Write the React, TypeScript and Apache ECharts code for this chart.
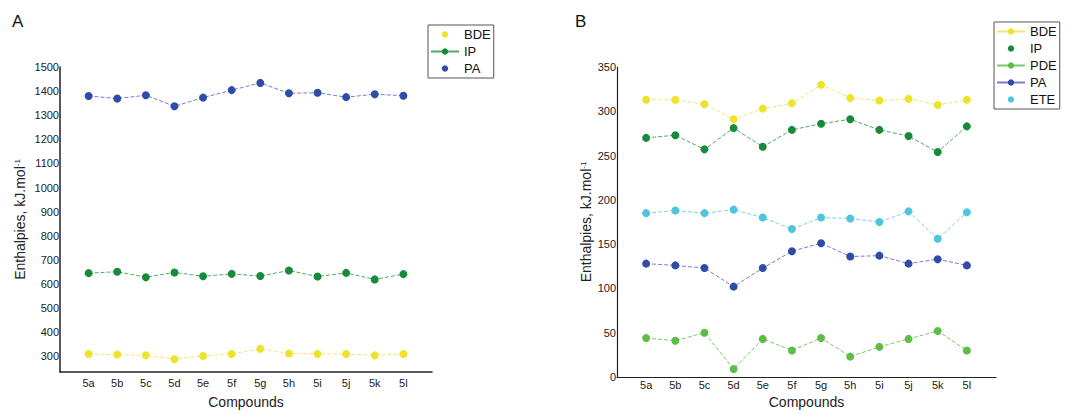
import React, { useEffect, useRef } from "react";
import * as echarts from "echarts";

const categories = ["5a", "5b", "5c", "5d", "5e", "5f", "5g", "5h", "5i", "5j", "5k", "5l"];

// Panel A
const aBDE = [310, 307, 304, 288, 301, 310, 331, 312, 310, 310, 304, 310];
const aIP = [645, 651, 628, 648, 632, 642, 633, 656, 631, 646, 619, 641];
const aPA = [1380, 1369, 1383, 1337, 1373, 1404, 1434, 1391, 1393, 1375, 1387, 1381];
const aYTicks = [300, 400, 500, 600, 700, 800, 900, 1000, 1100, 1200, 1300, 1400, 1500];

// Panel B
const bBDE = [313, 313, 308, 291, 303, 309, 330, 315, 312, 314, 307, 313];
const bIP = [270, 273, 257, 281, 260, 279, 286, 291, 279, 272, 254, 283];
const bPDE = [44, 41, 50, 9, 43, 30, 44, 23, 34, 43, 52, 30];
const bPA = [128, 126, 123, 102, 123, 142, 151, 136, 137, 128, 133, 126];
const bETE = [185, 188, 185, 189, 180, 167, 180, 179, 175, 187, 156, 186];
const bYTicks = [0, 50, 100, 150, 200, 250, 300, 350];

const FONT = "Liberation Sans, Arial, sans-serif";

const C = {
  bde: "#efe22a",
  bdeLine: "#efe37a",
  ip: "#188a3c",
  ipLine: "#55a86a",
  pde: "#5ebd48",
  pdeLine: "#7cc86a",
  pa: "#2f4ca6",
  paLine: "#7b7bd4",
  ete: "#4ec5dc",
  eteLine: "#7fd2e2",
};

const toPts = (arr: number[]) => categories.map((_, i) => [i + 1, arr[i]]);

function mkSeries(name: string, data: number[], color: string, lineColor: string, idx: number) {
  return {
    type: "line",
    name,
    xAxisIndex: idx,
    yAxisIndex: idx,
    data: toPts(data),
    symbol: "circle",
    symbolSize: 8,
    itemStyle: { color },
    lineStyle: { color: lineColor, width: 1, type: [4, 2] },
    emphasis: { disabled: true },
  };
}

function xAxisCfg(idx: number, lw: number, margin: number, nameGap: number) {
  return {
    type: "value",
    gridIndex: idx,
    min: 0,
    max: 13,
    interval: 1,
    name: "Compounds",
    nameLocation: "middle",
    nameGap,
    nameTextStyle: { fontFamily: FONT, fontSize: 14, color: "#222" },
    axisLine: { show: true, lineStyle: { color: "#222", width: lw } },
    axisTick: { show: false },
    splitLine: { show: false },
    axisLabel: {
      fontFamily: FONT,
      fontSize: 11,
      color: "#222",
      margin,
      formatter: (v: number) => categories[v - 1] ?? "",
    },
  };
}

function yAxisCfg(idx: number, min: number, max: number, ticks: number[], lw: number, nameGap: number) {
  return {
    type: "value",
    gridIndex: idx,
    min,
    max,
    name: "Enthalpies, kJ.mol{sup|-1}",
    nameLocation: "middle",
    nameGap,
    nameTextStyle: {
      fontFamily: FONT,
      fontSize: 14,
      color: "#222",
      rich: {
        sup: { fontFamily: FONT, fontSize: 8, color: "#222", verticalAlign: "top", padding: [0, 0, 6, 0] },
      },
    },
    axisLine: { show: true, lineStyle: { color: "#222", width: lw } },
    axisTick: { show: false },
    splitLine: { show: false },
    axisLabel: {
      fontFamily: FONT,
      fontSize: 11,
      color: "#222",
      margin: 1,
      customValues: ticks,
      formatter: (v: number) => String(v),
    },
  };
}

const dotOnly = { lineStyle: { opacity: 0 } };

export default function App() {
  const ref = useRef<HTMLDivElement>(null);
  useEffect(() => {
    if (!ref.current) return;
    const chart = echarts.init(ref.current, null, { renderer: "svg" });
    const legendCommon = {
      orient: "vertical",
      selectedMode: false,
      backgroundColor: "#fff",
      borderColor: "#555",
      borderWidth: 1,
      borderRadius: 0,
      itemWidth: 28,
      itemHeight: 8,
      itemGap: 4,
      textStyle: { fontFamily: FONT, fontSize: 13, color: "#111" },
    };
    chart.setOption({
      animation: false,
      backgroundColor: "#fff",
      grid: [
        { left: 60, top: 67, width: 372, height: 310, containLabel: false },
        { left: 617, top: 67, width: 379, height: 310, containLabel: false },
      ],
      xAxis: [xAxisCfg(0, 1.5, 5, 23), xAxisCfg(1, 1.2, 2, 18)],
      yAxis: [yAxisCfg(0, 235, 1500, aYTicks, 1.5, 33), yAxisCfg(1, 0, 350, bYTicks, 1.2, 24)],
      legend: [
        {
          ...legendCommon,
          left: 428,
          top: 25,
          padding: [3, 3, 3, 2],
          data: [
            { name: "BDE", ...dotOnly, itemStyle: { color: C.bde } },
            { name: "IP", lineStyle: { opacity: 1, color: C.ipLine, type: "solid" }, itemStyle: { color: C.ip } },
            { name: "PA", ...dotOnly, itemStyle: { color: C.pa } },
          ],
        },
        {
          ...legendCommon,
          left: 994,
          top: 22,
          padding: [3, 3, 3, 2],
          data: [
            { name: "BDE", lineStyle: { opacity: 1, color: C.bdeLine, type: "solid" }, itemStyle: { color: C.bde } },
            { name: "IP", ...dotOnly, itemStyle: { color: C.ip } },
            { name: "PDE", lineStyle: { opacity: 1, color: C.pdeLine, type: "solid" }, itemStyle: { color: C.pde } },
            { name: "PA", lineStyle: { opacity: 1, color: C.paLine, type: "solid" }, itemStyle: { color: C.pa } },
            { name: "ETE", ...dotOnly, itemStyle: { color: C.ete } },
          ],
        },
      ],
      graphic: [
        { type: "text", left: 12, top: 13, style: { text: "A", fontFamily: FONT, fontSize: 17, fill: "#111" } },
        { type: "text", left: 575, top: 13, style: { text: "B", fontFamily: FONT, fontSize: 17, fill: "#111" } },
      ],
      series: [
        mkSeries("BDE", aBDE, C.bde, C.bdeLine, 0),
        mkSeries("IP", aIP, C.ip, C.ipLine, 0),
        mkSeries("PA", aPA, C.pa, C.paLine, 0),
        mkSeries("BDE", bBDE, C.bde, C.bdeLine, 1),
        mkSeries("IP", bIP, C.ip, C.ipLine, 1),
        mkSeries("PDE", bPDE, C.pde, C.pdeLine, 1),
        mkSeries("PA", bPA, C.pa, C.paLine, 1),
        mkSeries("ETE", bETE, C.ete, C.eteLine, 1),
      ],
    });
    return () => chart.dispose();
  }, []);
  return (
    <div
      ref={ref}
      style={{ position: "fixed", left: 0, top: 0, width: 1069, height: 414, background: "#fff" }}
    />
  );
}
